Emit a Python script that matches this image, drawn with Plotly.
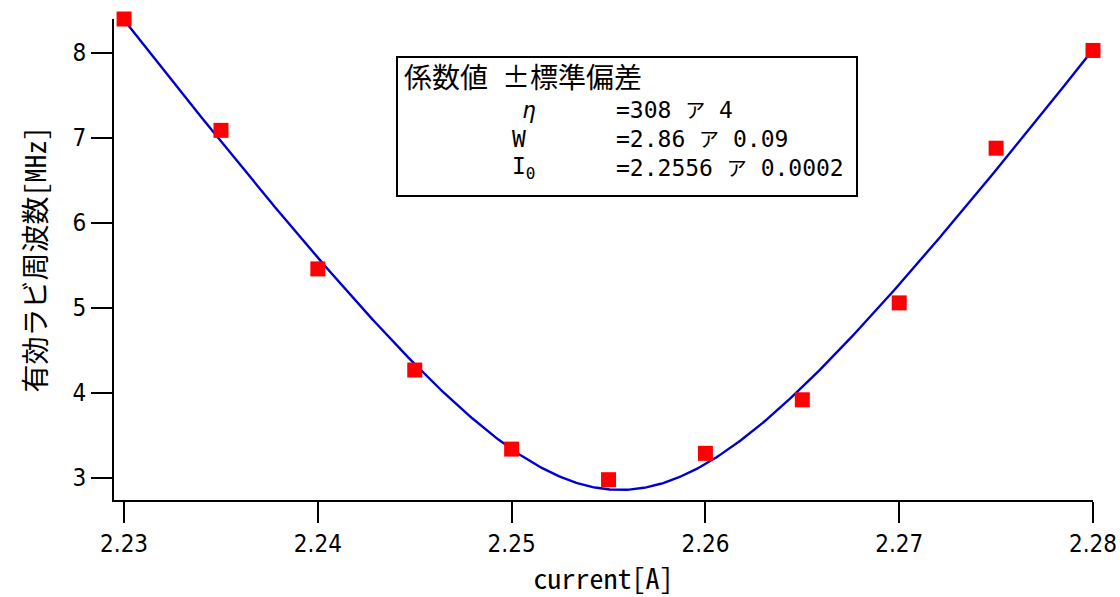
import numpy as np
import plotly.graph_objects as go

# measured data
current = [2.230, 2.235, 2.240, 2.245, 2.250, 2.255, 2.260, 2.265, 2.270, 2.275, 2.280]
rabi_freq = [8.40, 7.09, 5.46, 4.27, 3.34, 2.98, 3.29, 3.92, 5.06, 6.88, 8.03]

# fit coefficients shown in the chart
eta = 308
W = 2.86
I0 = 2.2556

# fitted model curve f(I) = sqrt((eta*(I-I0))^2 + W^2)
fit_x = np.linspace(2.23, 2.28, 400)
fit_y = np.sqrt((eta * (fit_x - I0)) ** 2 + W ** 2)

x_ticks = [2.23, 2.24, 2.25, 2.26, 2.27, 2.28]
x_tick_labels = ["2.23", "2.24", "2.25", "2.26", "2.27", "2.28"]
y_ticks = [3, 4, 5, 6, 7, 8]

W_PX, H_PX = 1120, 597
L, R, T, B = 114, 1093, 19, 500

def px(x):
    return (x - L) / (R - L)

def py(y):
    return (B - y) / (B - T)

FONT = "Noto Sans Mono CJK JP, Noto Sans CJK JP, DejaVu Sans Mono, monospace"
TICKFONT = "DejaVu Sans Condensed, Noto Sans CJK JP, sans-serif"
ROWFONT = "DejaVu Sans Mono, Noto Sans Mono CJK JP, monospace"

fig = go.Figure()
fig.add_trace(go.Scatter(
    x=fit_x, y=fit_y, mode="lines",
    line=dict(color="#0000CC", width=2.4),
    showlegend=False, hoverinfo="skip",
))
fig.add_trace(go.Scatter(
    x=current, y=rabi_freq, mode="markers",
    marker=dict(symbol="square", size=15, color="#FF0000", line=dict(width=0)),
    showlegend=False, cliponaxis=False,
))

fig.update_layout(
    width=W_PX, height=H_PX,
    margin=dict(l=L, r=W_PX - R, t=T, b=H_PX - B),
    paper_bgcolor="white", plot_bgcolor="white",
    font=dict(family=FONT, color="black", size=24),
)
fig.update_xaxes(
    range=[2.22948, 2.28], tickvals=x_ticks, ticktext=x_tick_labels,
    showgrid=False, zeroline=False, automargin=False, ticklabeloverflow="allow",
    showline=True, linecolor="black", linewidth=2,
    ticks="outside", ticklen=21, tickwidth=2, tickcolor="black",
    tickfont=dict(family=TICKFONT, size=24),
    title=dict(text="current[A]", font=dict(family=FONT, size=28), standoff=4),
)
fig.update_yaxes(
    range=[2.741, 8.4], tickvals=y_ticks,
    showgrid=False, zeroline=False, automargin=False, ticklabeloverflow="allow",
    showline=True, linecolor="black", linewidth=2,
    ticks="outside", ticklen=21, tickwidth=2, tickcolor="black",
    tickfont=dict(family=TICKFONT, size=24),
    title=dict(text="有効ラビ周波数[MHz]", font=dict(family=FONT, size=28), standoff=18),
)

# coefficient box
fig.add_shape(type="rect", xref="paper", yref="paper",
              x0=px(397), x1=px(857), y0=py(196), y1=py(57),
              line=dict(color="black", width=2), fillcolor="white", layer="above")

NB = "\u00a0"
header = "係数値" + NB + "±標準偏差"
fig.add_annotation(xref="paper", yref="paper", x=px(403), y=py(76),
                   text=header, showarrow=False, xanchor="left", yanchor="middle",
                   borderpad=0, font=dict(family=FONT, size=28, color="black"))

AR = '<span style="font-size:20px">ア</span>'
row_y = [110, 139, 168]
row_sym = ["<i>η</i>", "W", "I<sub>0</sub>"]
row_sym_x = [521, 511, 511]
row_val = ["=308" + NB + AR + NB + "4",
           "=2.86" + NB + AR + NB + "0.09",
           "=2.2556" + NB + AR + NB + "0.0002"]
for y, s, sx, v in zip(row_y, row_sym, row_sym_x, row_val):
    fig.add_annotation(xref="paper", yref="paper", x=px(sx), y=py(y),
                       text=s, showarrow=False, xanchor="left", yanchor="middle",
                       borderpad=0, font=dict(family=ROWFONT, size=23, color="black"))
    fig.add_annotation(xref="paper", yref="paper", x=px(615), y=py(y),
                       text=v, showarrow=False, xanchor="left", yanchor="middle",
                       borderpad=0, font=dict(family=ROWFONT, size=23, color="black"))

fig.write_html("out.html")
